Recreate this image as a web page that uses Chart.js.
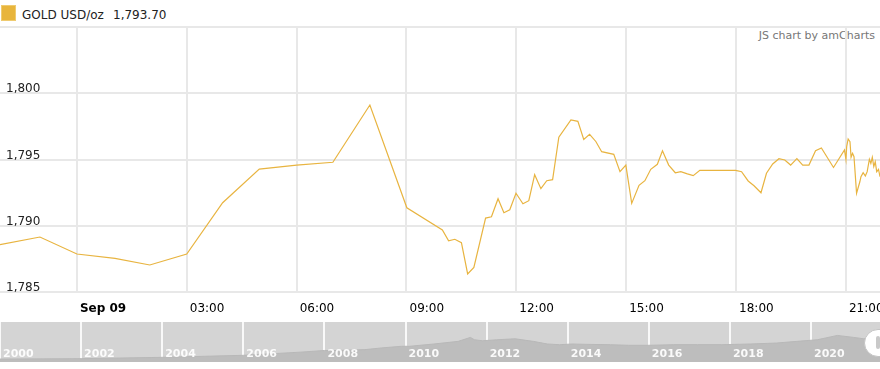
<!DOCTYPE html>
<html><head><meta charset="utf-8">
<script src="https://cdn.jsdelivr.net/npm/chart.js@4"></script>
<style>
html,body{margin:0;padding:0;background:#fff;width:880px;height:369px;overflow:hidden;position:relative;font-family:'DejaVu Sans',Verdana,sans-serif;}
#main{position:absolute;left:0;top:0;}
#nav{position:absolute;left:0;top:322px;background:#d4d4d4;}
#legend{position:absolute;left:1px;top:7px;height:16px;line-height:16px;font-size:12px;color:#222;white-space:nowrap;}
#legend .sw{position:absolute;left:0;top:-2px;width:15px;height:16px;background:#e8b53c;border:1px solid #efcb70;box-sizing:border-box;}
#legend .name{position:absolute;left:21px;top:0;}
#legend .val{position:absolute;left:112px;top:0;}
#credit{position:absolute;right:5px;top:29px;font-size:11px;line-height:13px;color:#777;white-space:nowrap;}
#handle{position:absolute;left:864px;top:329px;width:30px;height:28px;border-radius:15px;background:#fff;border:1px solid #c4c4c4;box-sizing:border-box;}
#handle div{position:absolute;left:11px;top:6px;width:4px;height:13px;background:#c9c9c9;border-radius:2px;}
</style></head><body>
<div id="legend"><span class="sw"></span><span class="name"></span><span class="val"></span></div>
<div id="credit">JS chart by amCharts</div>
<canvas id="main" width="880" height="320"></canvas>
<canvas id="nav" width="880" height="40"></canvas>
<div id="handle"><div></div></div>
<script>
// ---- data ----
const seriesName = 'GOLD USD/oz';
const lastValueText = '1,793.70';

// hours relative to Sep 09 00:00 (negative = Sep 08)
const hours = [-2.10,-1.01,0,1.04,1.99,3.00,3.98,4.98,6.00,6.99,8.00,9.01,9.98,10.15,10.32,10.50,10.67,10.84,
  11.16,11.32,11.50,11.66,11.82,11.99,12.18,12.34,12.50,12.67,12.83,12.99,13.16,13.49,13.68,13.84,14.00,14.17,
  14.33,14.66,14.83,14.99,15.15,15.35,15.51,15.67,15.85,15.99,16.16,16.34,16.49,16.67,16.83,17.01,17.99,18.15,
  18.33,18.49,18.68,18.83,19.00,19.17,19.33,19.49,19.66,19.82,19.99,20.17,20.33,20.66,20.96,21.00,21.02,21.06,
  21.11,21.14,21.18,21.22,21.29,21.38,21.41,21.47,21.53,21.58,21.64,21.68,21.72,21.76,21.80,21.84,21.89,21.93];
const prices = [1788.57,1789.15,1787.87,1787.54,1787.04,1787.87,1791.74,1794.28,1794.58,1794.79,1799.11,1791.36,
  1789.68,1788.87,1788.98,1788.72,1786.36,1786.86,1790.58,1790.68,1792.04,1790.98,1791.21,1792.45,1791.66,1791.89,
  1793.85,1792.80,1793.40,1793.48,1796.68,1797.98,1797.88,1796.51,1796.90,1796.36,1795.59,1795.39,1794.08,1794.58,
  1791.69,1793.05,1793.40,1794.26,1794.64,1795.66,1794.58,1794.00,1794.08,1793.91,1793.78,1794.18,1794.18,1794.08,
  1793.38,1793.02,1792.49,1793.96,1794.66,1795.06,1794.96,1794.58,1795.06,1794.58,1794.58,1795.66,1795.87,1794.40,
  1795.72,1795.00,1795.97,1796.55,1796.34,1795.17,1795.47,1795.21,1792.45,1793.32,1793.70,1794.00,1793.75,1794.08,
  1795.02,1794.71,1795.17,1794.46,1794.83,1794.08,1794.26,1793.70];

const hourTicks = [0,3,6,9,12,15,18,21];
const hourLabels = ['Sep 09','03:00','06:00','09:00','12:00','15:00','18:00','21:00'];
const priceTicks = [1785,1790,1795,1800,1805];

// navigator (long-term history)
const navYears = [2000.0,2002.0,2004.0,2006.0,2007.4,2008.0,2008.2,2009.0,2009.4,2009.9,2010.1,2010.7,2011.3,2011.6,
  2011.7,2011.9,2012.25,2012.7,2013.15,2013.5,2013.8,2014.1,2014.55,2015.05,2015.5,2016.0,2016.6,2017.2,2017.8,
  2018.5,2019.15,2019.65,2020.15,2020.65,2021.05,2021.3,2021.7];
const navPrices = [280,310,410,560,795,920,912,986,1111,1236,1236,1406,1604,1899,1722,1649,1722,1796,1604,1406,
  1354,1406,1376,1354,1310,1310,1354,1354,1354,1406,1479,1604,1722,2046,1899,1796,1796];
const navYearTicks = [2000,2002,2004,2006,2008,2010,2012,2014,2016,2018,2020];

// ---- chart ----
document.querySelector('#legend .name').textContent = seriesName;
document.querySelector('#legend .val').textContent = lastValueText;

Chart.defaults.font.family = "'DejaVu Sans', Verdana, sans-serif";
Chart.defaults.font.size = 12;

const gridColor = '#e8e8e8';

new Chart(document.getElementById('main'), {
  type: 'line',
  data: { datasets: [{
    data: hours.map((h, i) => ({ x: h, y: prices[i] })),
    borderColor: '#e8b440', borderWidth: 1.2, pointRadius: 0, tension: 0, fill: false
  }] },
  options: {
    responsive: false, animation: false,
    layout: { padding: { top: 27, left: 0, right: 0, bottom: 0 } },
    plugins: { legend: { display: false }, tooltip: { enabled: false } },
    scales: {
      x: {
        type: 'linear', min: -2.1, max: 21.93,
        afterBuildTicks: s => { s.ticks = hourTicks.map(v => ({ value: v })); },
        afterFit: s => { s.height = 28; s.paddingLeft = 0; s.paddingRight = 0; },
        grid: { color: gridColor, lineWidth: 2, drawTicks: false },
        border: { display: false },
        ticks: {
          align: 'start', labelOffset: 3, padding: 10, autoSkip: false, maxRotation: 0, color: '#000',
          font: c => ({ size: 12, weight: (c.tick && c.tick.value === 0) ? 'bold' : 'normal' }),
          callback: v => hourLabels[hourTicks.indexOf(v)]
        }
      },
      y: {
        min: 1785, max: 1805,
        afterBuildTicks: s => { s.ticks = priceTicks.map(v => ({ value: v })); },
        afterFit: s => { s.width = 0; s.paddingTop = 0; s.paddingBottom = 0; },
        grid: { color: gridColor, lineWidth: 2, drawTicks: false },
        border: { display: false },
        ticks: {
          mirror: true, padding: 6, labelOffset: -4, color: '#222', font: { size: 12 },
          callback: v => v === 1805 ? '' : v.toLocaleString('en-US')
        }
      }
    }
  }
});

new Chart(document.getElementById('nav'), {
  type: 'line',
  data: { datasets: [{
    data: navYears.map((y, i) => ({ x: y, y: navPrices[i] })),
    borderColor: '#b8b8b8', borderWidth: 1, backgroundColor: '#bdbdbd', fill: 'start', pointRadius: 0, tension: 0
  }] },
  options: {
    responsive: false, animation: false,
    layout: { padding: 0 },
    plugins: { legend: { display: false }, tooltip: { enabled: false } },
    scales: {
      x: {
        type: 'linear', min: 2000, max: 2021.7, z: 1,
        afterBuildTicks: s => { s.ticks = navYearTicks.map(v => ({ value: v })); },
        afterFit: s => { s.height = 0; s.paddingLeft = 0; s.paddingRight = 0; },
        grid: { color: 'rgba(255,255,255,0.85)', lineWidth: 2, drawTicks: false },
        border: { display: false },
        ticks: { display: false }
      },
      y: { display: false, min: 60, max: 3050 }
    }
  },
  plugins: [{
    id: 'yearLabels',
    afterDraw(chart) {
      const sx = chart.scales.x, ctx = chart.ctx;
      ctx.save();
      ctx.font = "bold 11px 'DejaVu Sans', Verdana, sans-serif";
      ctx.fillStyle = 'rgba(255,255,255,0.92)';
      ctx.textAlign = 'left';
      ctx.textBaseline = 'alphabetic';
      sx.ticks.forEach(t => ctx.fillText(String(t.value), sx.getPixelForValue(t.value) + 3, 35));
      ctx.restore();
    }
  }]
});
</script>
</body></html>
